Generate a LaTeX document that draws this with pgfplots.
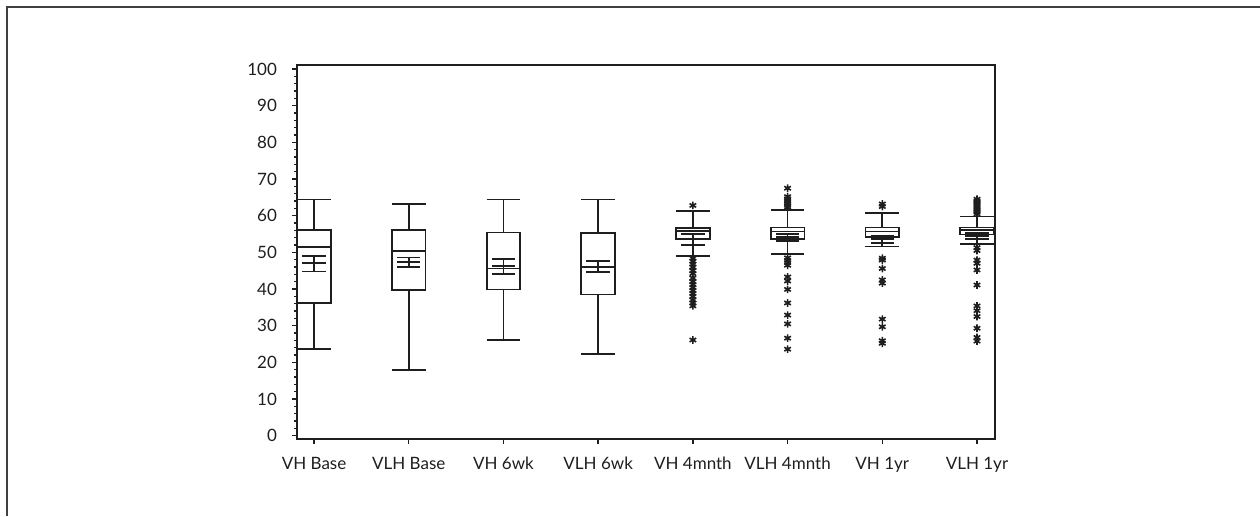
\documentclass[border=0pt]{standalone}
\usepackage{fontspec}
\setmainfont{Lato}
\usepackage{pgfplots}
\pgfplotsset{compat=1.18}
\usepgfplotslibrary{statistics}

\definecolor{ink}{HTML}{1E1E1E}

% one box: draw position, whiskers, quartiles and median
\pgfplotsset{
  bp/.style n args={6}{
    ink, line width=0.9pt,
    mark=asterisk, mark size=1.9pt, mark options={line width=0.8pt},
    boxplot prepared={draw position=#1, lower whisker=#2, lower quartile=#3,
      median=#4, upper quartile=#5, upper whisker=#6,
      box extend=0.355, whisker extend=0.355}}
}

\begin{document}
\begin{tikzpicture}
\useasboundingbox (0,0) rectangle (630pt,258pt);
% outer frame
\draw[line width=1pt, black!75] (3.5pt,0) -- (3.5pt,254.5pt) -- (630pt,254.5pt);

\begin{axis}[
  at={(148.5pt,38.5pt)}, anchor=south west,
  scale only axis, width=349pt, height=187pt,
  xmin=0.82, xmax=8.19, ymin=-0.9, ymax=101.1,
  axis line style={ink, line width=0.8pt},
  tick style={ink, line width=0.7pt},
  tick align=outside,
  major tick length=2.5pt, minor tick length=1.6pt,
  xtick pos=bottom, ytick pos=left,
  xtick={1,...,8},
  xticklabels={VH Base, VLH Base, VH 6wk, VLH 6wk, VH 4mnth, VLH 4mnth, VH 1yr, VLH 1yr},
  ytick={0,10,...,100},
  minor y tick num=4,
  /pgf/number format/assume math mode=true,
  ticklabel style={font=\fontsize{8.5}{10}\selectfont, text=ink},
  yticklabel style={xshift=-4pt},
  xticklabel style={yshift=-3pt},
  boxplot/draw direction=y,
]

% boxes with their outliers
\addplot[bp={1}{23.6}{36.1}{51.4}{56.0}{64.4}] coordinates {};
\addplot[bp={2}{17.9}{39.7}{50.3}{56.0}{63.3}] coordinates {};
\addplot[bp={3}{26.2}{39.9}{45.6}{55.4}{64.4}] coordinates {};
\addplot[bp={4}{22.3}{38.5}{46.1}{55.2}{64.4}] coordinates {};
\addplot[bp={5}{49.0}{53.6}{55.8}{56.7}{61.3}]
  table[row sep=\\, y index=0] {data\\ 62.8\\ 48.4\\ 47.6\\ 46.8\\ 46.0\\ 45.0\\ 44.2\\ 43.0\\ 42.0\\ 41.2\\ 40.4\\ 39.6\\ 38.8\\ 38.0\\ 37.0\\ 36.2\\ 35.4\\ 26.1\\};
\addplot[bp={6}{49.5}{53.6}{55.7}{56.8}{61.6}]
  table[row sep=\\, y index=0] {data\\ 67.5\\ 65.2\\ 64.6\\ 64.0\\ 63.4\\ 62.8\\ 62.3\\ 48.5\\ 47.8\\ 47.2\\ 46.5\\ 43.3\\ 42.2\\ 39.9\\ 36.2\\ 32.9\\ 30.5\\ 26.6\\ 23.6\\};
\addplot[bp={7}{51.6}{54.2}{55.7}{56.8}{60.8}]
  table[row sep=\\, y index=0] {data\\ 63.2\\ 62.5\\ 48.4\\ 47.9\\ 45.6\\ 42.5\\ 41.6\\ 31.8\\ 29.7\\ 25.9\\ 25.2\\};
\addplot[bp={8}{52.2}{54.9}{56.0}{56.8}{59.8}]
  table[row sep=\\, y index=0] {data\\ 64.5\\ 64.0\\ 63.5\\ 63.0\\ 62.5\\ 62.0\\ 61.5\\ 61.0\\ 60.5\\ 51.3\\ 50.5\\ 47.9\\ 47.0\\ 45.2\\ 41.1\\ 35.4\\ 34.1\\ 32.5\\ 29.3\\ 26.8\\ 25.8\\};

% means with confidence intervals
\addplot[ink, line width=0.9pt, only marks, mark=-, mark size=5.85pt,
  error bars/.cd, y dir=both, y explicit, error mark=|,
  error mark options={mark size=5.85pt, line width=0.9pt, ink},
  error bar style={line width=0.9pt, ink}]
  coordinates {
    (1,47.0) += (0,2.1) -= (0,2.2)
    (2,47.4) += (0,1.2) -= (0,1.4)
    (3,46.3) += (0,2.0) -= (0,2.2)
    (4,46.1) += (0,1.6) -= (0,1.5)
    (5,53.6) += (0,1.5) -= (0,1.5)
    (6,54.1) += (0,0.9) -= (0,0.9)
    (7,53.6) += (0,1.0) -= (0,1.0)
    (8,54.4) += (0,0.9) -= (0,0.8)
  };
\end{axis}
\end{tikzpicture}
\end{document}
